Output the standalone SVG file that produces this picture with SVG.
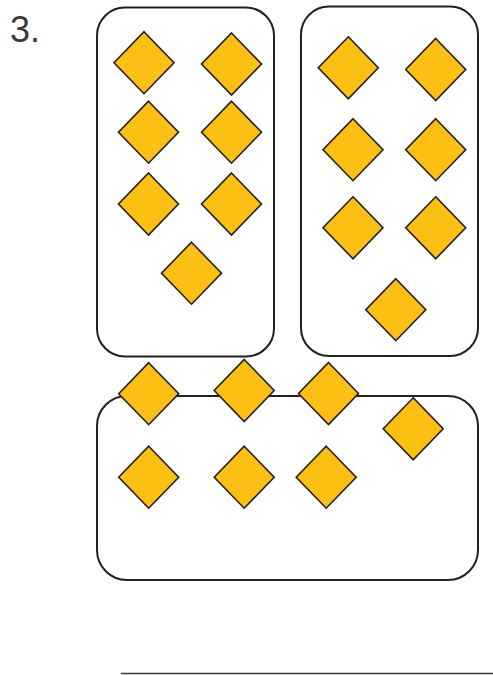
<svg xmlns="http://www.w3.org/2000/svg" xmlns:xlink="http://www.w3.org/1999/xlink" width="493" height="675" viewBox="0 0 493 675">
<style>
.box{fill:none;stroke:#231f20;stroke-width:2}
.dia{fill:#fcbf13;stroke:#231f20;stroke-width:1.6;stroke-linejoin:miter}
.num{font-family:"Liberation Sans",Arial,sans-serif;font-size:36px;fill:#3a3a3a}
</style>
<defs>
<path id="d" class="dia" d="M0,-31 L30,0 L0,31 L-30,0 Z"/>
</defs>
<rect width="493" height="675" fill="#fff"/>
<text class="num" x="10" y="42">3.</text>
<g id="box-left">
<rect class="box" x="97" y="7.5" width="177" height="349" rx="28"/>
<use xlink:href="#d" x="144" y="62.7"/>
<use xlink:href="#d" x="231.5" y="64"/>
<use xlink:href="#d" x="148.5" y="132.2"/>
<use xlink:href="#d" x="231.5" y="132.2"/>
<use xlink:href="#d" x="148.5" y="204"/>
<use xlink:href="#d" x="231.5" y="204"/>
<use xlink:href="#d" x="191.5" y="273.2"/>
</g>
<g id="box-right">
<rect class="box" x="301" y="6.5" width="177" height="349.5" rx="28"/>
<use xlink:href="#d" x="348.3" y="67.8"/>
<use xlink:href="#d" x="435.7" y="69.5"/>
<use xlink:href="#d" x="353" y="149.7"/>
<use xlink:href="#d" x="435.7" y="149.7"/>
<use xlink:href="#d" x="353" y="227.8"/>
<use xlink:href="#d" x="435.7" y="227.8"/>
<use xlink:href="#d" x="395.8" y="309.7"/>
</g>
<g id="box-bottom">
<rect class="box" x="97" y="396" width="381" height="184" rx="30"/>
<use xlink:href="#d" x="148.7" y="393.7"/>
<use xlink:href="#d" x="244.2" y="390.5"/>
<use xlink:href="#d" x="328.5" y="393.5"/>
<use xlink:href="#d" x="413.2" y="428.8"/>
<use xlink:href="#d" x="148.7" y="477.2"/>
<use xlink:href="#d" x="244.2" y="477.2"/>
<use xlink:href="#d" x="326.2" y="477.2"/>
</g>
<g id="connectors"></g>
<line x1="121" y1="673.5" x2="493" y2="673.5" stroke="#3a3a3a" stroke-width="1.5"/>
</svg>
